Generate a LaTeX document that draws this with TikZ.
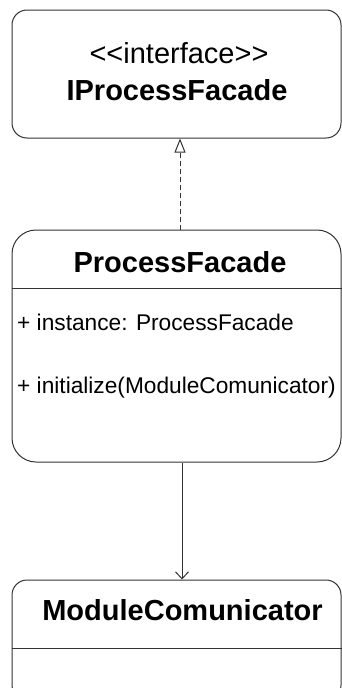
\documentclass[tikz,border=0pt]{standalone}
\usepackage{fontspec}
\setmainfont{Liberation Sans}
\usetikzlibrary{arrows.meta}
\definecolor{linec}{HTML}{333333}
\begin{document}
\begin{tikzpicture}[x=1pt,y=-1pt,
  umlbox/.style={draw=linec, line width=1pt, rounded corners=#1, inner sep=0pt,
                 minimum width=329pt, fill=white},
  titletxt/.style={font=\fontsize{29}{34}\selectfont\bfseries, anchor=base, inner sep=0pt},
  stereotxt/.style={font=\fontsize{29}{34}\selectfont, anchor=base, inner sep=0pt},
  membertxt/.style={font=\fontsize{22.7}{27}\selectfont, anchor=base west, inner sep=0pt},
  divider/.style={draw=linec, line width=1pt},
  realize/.style={draw=linec, line width=1pt, dash pattern=on 5pt off 3pt,
                  -{Triangle[open, length=14pt, width=11pt, line width=1pt]}},
  assoc/.style={draw=linec, line width=1pt, -{Straight Barb[length=7pt, width=13pt, line width=1pt]}}
]
\useasboundingbox (0,0) rectangle (342,688);
\clip (0,0) rectangle (342,688);

% interface box
\node[umlbox=15pt, minimum height=128pt] (iface) at (176.5,74) {};
\node[stereotxt] (ifstereo) at (179,63) {{<}{<}interface{>}{>}};
\node[titletxt] (ifname) at (177,100) {IProcessFacade};

% ProcessFacade class
\node[umlbox=24pt, minimum height=232pt] (facade) at (176.5,346) {};
\node[titletxt] (facname) at (180,272) {ProcessFacade};
\draw[divider] (facade.west |- 0,288) coordinate (facdivl) -- (facade.east |- 0,288) coordinate (facdivr);
\node[membertxt] (attr) at (17,330) {+ instance: ProcessFacade};
\node[membertxt] (oper) at (17,393) {+ initialize(ModuleComunicator)};

% ModuleComunicator class
\node[umlbox=15pt, minimum height=120pt] (comm) at (176.5,640) {};
\node[titletxt] (commname) at (182.5,620) {ModuleComunicator};
\draw[divider] (comm.west |- 0,648) coordinate (commdivl) -- (comm.east |- 0,648) coordinate (commdivr);

% relations
\draw[realize] ([xshift=3.5pt]facade.north) -- ([xshift=3.5pt]iface.south);
\draw[assoc] ([xshift=5.5pt]facade.south) -- ([xshift=5.5pt]comm.north);
\end{tikzpicture}
\end{document}
